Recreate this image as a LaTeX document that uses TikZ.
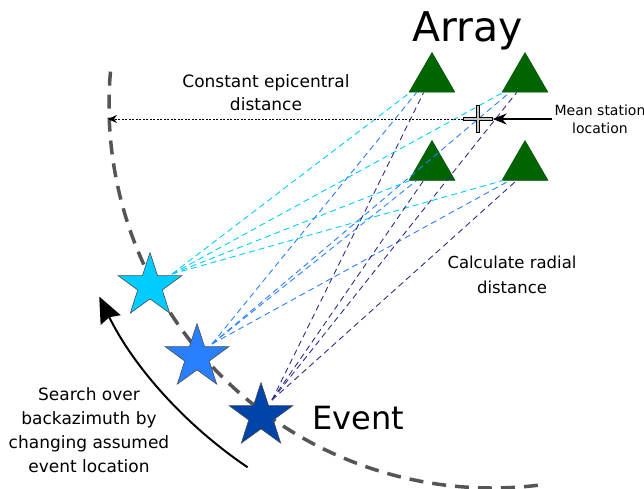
\documentclass[tikz,border=0pt]{standalone}
\usepackage{fontspec}
\setmainfont{DejaVu Sans}
\usetikzlibrary{arrows.meta, shapes.geometric, calc}

\definecolor{stagreen}{RGB}{0,100,0}
\definecolor{cyanstar}{RGB}{0,204,255}
\definecolor{midstar}{RGB}{42,127,255}
\definecolor{evstar}{RGB}{0,68,170}
\definecolor{navyray}{RGB}{44,44,137}
\definecolor{arcgray}{RGB}{85,85,85}
\definecolor{crossgray}{RGB}{200,196,190}

\begin{document}
\begin{tikzpicture}[x=1pt, y=-1pt, >={Stealth},
  station/.style={regular polygon, regular polygon sides=3, minimum size=53pt,
    inner sep=0pt, fill=stagreen, draw=stagreen!85!black, line width=0.5pt},
  quake/.style={star, star points=5, star point ratio=2.6, minimum size=67pt,
    inner sep=0pt, draw=black!70, line width=0.6pt},
  ray/.style={dash pattern=on 6pt off 4pt, line width=0.9pt},
  note/.style={align=center, inner sep=1pt, anchor=base}]
  \useasboundingbox (0,0) rectangle (644,489);
  \coordinate (o) at (492,105);

  % --- search circle (constant epicentral distance) ---
  \draw[arcgray, line width=3.5pt, dash pattern=on 14pt off 9pt]
    ($(o)+(185:383)$) arc[start angle=185, end angle=83, radius=383];

  % --- array stations ---
  \node[station] (t1) at (432,79) {};
  \node[station] (t2) at (525,79) {};
  \node[station] (t3) at (432,167) {};
  \node[station] (t4) at (525,167) {};

  % --- assumed event locations ---
  \node[quake, fill=cyanstar] (s1) at (150,286) {};
  \node[quake, fill=midstar] (s2) at (197,357) {};
  \node[quake, fill=evstar] (s3) at (261,416) {};
  \coordinate (r1) at (172,274);
  \coordinate (r2) at (212,344);
  \coordinate (r3) at (272,400);

  % --- rays to each station ---
  \foreach \s/\c/\f in {r1/cyanstar/0.03, r2/midstar/0.17, r3/navyray/0.32}
    \foreach \t in {t1,t2,t3,t4}
      \draw[ray, \c] (\s) -- ($(\t.corner 2)!\f!(\t.corner 3)$);

  % --- mean station location ---
  \node[inner sep=0pt, minimum width=29pt, minimum height=27pt] (mean) at (478,119) {};
  \filldraw[fill=crossgray, draw=black, line width=0.7pt, shift={(mean)}]
    (-14.5,-1.7) -- (-1.7,-1.7) -- (-1.7,-13.5) -- (1.7,-13.5) -- (1.7,-1.7)
    -- (14.5,-1.7) -- (14.5,1.7) -- (1.7,1.7) -- (1.7,13.5) -- (-1.7,13.5)
    -- (-1.7,1.7) -- (-14.5,1.7) -- cycle;
  \coordinate (epiend) at (108,119);
  \draw[-{Stealth[length=9pt, width=8pt]}, line width=0.8pt,
    dash pattern=on 2pt off 1.5pt] (mean.west) -- (epiend);

  % --- labels (base = last line) ---
  \node[note, font=\fontsize{41}{41}\selectfont] (array) at (468,42) {Array};
  \node[note, font=\fontsize{32}{32}\selectfont] (event) at (358,429) {Event};
  \node[note, font=\fontsize{17}{23}\selectfont] (epi) at (266,111)
    {Constant epicentral\\distance};
  \node[note, font=\fontsize{16.5}{25}\selectfont] (radial) at (512,293)
    {Calculate radial\\distance};
  \node[note, font=\fontsize{14}{18}\selectfont, inner sep=2pt] (mlabel) at (600,134)
    {Mean station\\location};
  \node[note, font=\fontsize{17}{24}\selectfont] (search) at (89,472)
    {Search over\\backazimuth by\\changing assumed\\event location};
  \draw[-{Stealth[length=14pt, width=11pt]}, line width=1.2pt]
    (mlabel.west |- mean) -- (mean.east);

  % --- search arrow ---
  \draw[-{Stealth[length=26pt, width=22pt, inset=3pt]}, line width=2pt]
    ($(o)+(124:437)$) arc[start angle=124, end angle=154, radius=437];
\end{tikzpicture}
\end{document}
